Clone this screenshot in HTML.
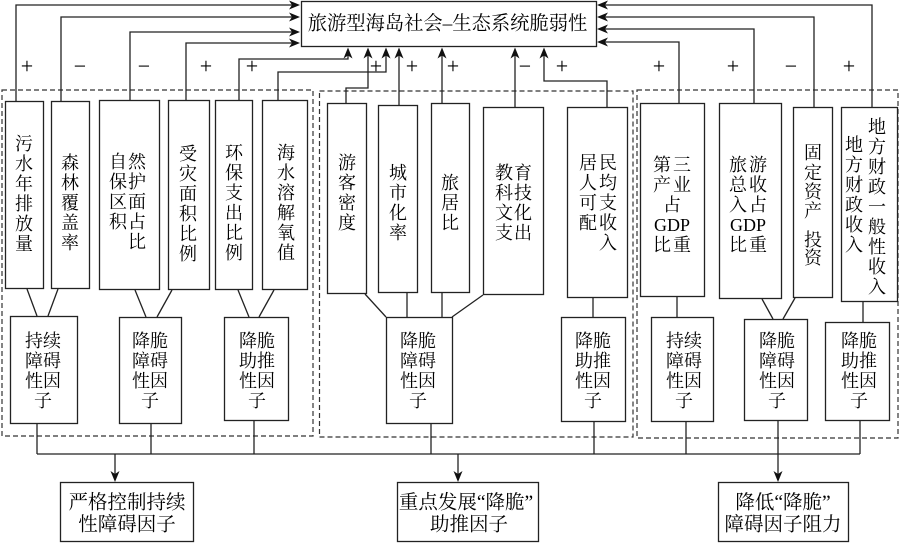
<!DOCTYPE html>
<html>
<head>
<meta charset="utf-8">
<style>
  html, body { margin: 0; padding: 0; background: #fff; }
  svg { display: block; }
  text { font-family: "Liberation Serif", "Noto Serif CJK SC", serif; fill: #000; text-anchor: middle; dominant-baseline: central; }
  .t { font-size: 18px; }
  .b { font-size: 19.5px; }
  .h { font-size: 19.3px; }
  .s { font-size: 22px; }
  .box { fill: #fff; stroke: #222; stroke-width: 1.3; }
  .ln { fill: none; stroke: #222; stroke-width: 1.3; }
  .dash { fill: none; stroke: #333; stroke-width: 1.2; stroke-dasharray: 5 3; }
  .ah { fill: #111; }
</style>
</head>
<body>
<svg width="900" height="543" viewBox="0 0 900 543" xmlns="http://www.w3.org/2000/svg">

  <!-- dashed group boxes -->
  <rect class="dash" x="2" y="90" width="311" height="346"/>
  <rect class="dash" x="319.5" y="91" width="313.5" height="346"/>
  <rect class="dash" x="637" y="90" width="261" height="348"/>

  <!-- top connectors, left group -->
  <polyline class="ln" points="16,101 16,5 292,5"/>
  <polyline class="ln" points="61,101 61,17 292,17"/>
  <polyline class="ln" points="130,100 130,32 292,32"/>
  <polyline class="ln" points="186,100 186,43 292,43"/>
  <polyline class="ln" points="239,100 239,59 348,59 348,55"/>
  <polyline class="ln" points="278,100 278,72 386,72 386,55"/>
  <!-- middle group -->
  <polyline class="ln" points="346,103 346,88 368,88 368,55"/>
  <polyline class="ln" points="399,105 399,55"/>
  <polyline class="ln" points="442,103 442,55"/>
  <polyline class="ln" points="515,107 515,55"/>
  <polyline class="ln" points="607,107 607,81 544,81 544,55"/>
  <!-- right group -->
  <polyline class="ln" points="679,103 679,42 605,42"/>
  <polyline class="ln" points="754,103 754,29 605,29"/>
  <polyline class="ln" points="814,107 814,17 605,17"/>
  <polyline class="ln" points="872,107 872,5 605,5"/>

  <!-- arrowheads into title box -->
  <polygon class="ah" points="300,5 289,0.5 292,5 289,9.5"/>
  <polygon class="ah" points="300,17 289,12.5 292,17 289,21.5"/>
  <polygon class="ah" points="300,32 289,27.5 292,32 289,36.5"/>
  <polygon class="ah" points="300,43 289,38.5 292,43 289,47.5"/>

  <polygon class="ah" points="348,47.5 343.5,58.5 348,55.5 352.5,58.5"/>
  <polygon class="ah" points="368,47.5 363.5,58.5 368,55.5 372.5,58.5"/>
  <polygon class="ah" points="386,47.5 381.5,58.5 386,55.5 390.5,58.5"/>
  <polygon class="ah" points="399,47.5 394.5,58.5 399,55.5 403.5,58.5"/>
  <polygon class="ah" points="442,47.5 437.5,58.5 442,55.5 446.5,58.5"/>
  <polygon class="ah" points="515,47.5 510.5,58.5 515,55.5 519.5,58.5"/>
  <polygon class="ah" points="544,47.5 539.5,58.5 544,55.5 548.5,58.5"/>

  <polygon class="ah" points="597,5 608,0.5 605,5 608,9.5"/>
  <polygon class="ah" points="597,17 608,12.5 605,17 608,21.5"/>
  <polygon class="ah" points="597,29 608,24.5 605,29 608,33.5"/>
  <polygon class="ah" points="597,42 608,37.5 605,42 608,46.5"/>

  <!-- title box -->
  <rect class="box" x="301.5" y="1.5" width="295" height="45"/>
  <text class="h" x="447.5" y="24">旅游型海岛社会–生态系统脆弱性</text>

  <!-- signs -->
  <text class="s" x="27" y="66">+</text>
  <text class="s" x="80" y="66">−</text>
  <text class="s" x="144" y="66">−</text>
  <text class="s" x="206" y="66">+</text>
  <text class="s" x="252" y="66">+</text>
  <text class="s" x="376" y="66">+</text>
  <text class="s" x="412" y="66">+</text>
  <text class="s" x="453" y="66">+</text>
  <text class="s" x="525" y="66">−</text>
  <text class="s" x="562" y="66">+</text>
  <text class="s" x="659" y="66">+</text>
  <text class="s" x="733" y="66">+</text>
  <text class="s" x="791" y="66">−</text>
  <text class="s" x="849" y="66">+</text>

  <!-- indicator boxes -->
  <rect class="box" x="5.5" y="101.5" width="38" height="187"/>
  <rect class="box" x="51.5" y="101.5" width="38" height="187"/>
  <rect class="box" x="99.5" y="100.5" width="60" height="189"/>
  <rect class="box" x="168.5" y="100.5" width="41" height="189"/>
  <rect class="box" x="215.5" y="100.5" width="37" height="189"/>
  <rect class="box" x="262.5" y="100.5" width="45" height="189"/>
  <rect class="box" x="327.5" y="103.5" width="39" height="190"/>
  <rect class="box" x="378.5" y="105.5" width="39" height="187"/>
  <rect class="box" x="431.5" y="103.5" width="38" height="189"/>
  <rect class="box" x="483.5" y="107.5" width="60" height="187"/>
  <rect class="box" x="567.5" y="107.5" width="60" height="190"/>
  <rect class="box" x="640.5" y="103.5" width="64" height="193"/>
  <rect class="box" x="719.5" y="103.5" width="62" height="195"/>
  <rect class="box" x="793.5" y="107.5" width="39" height="190"/>
  <rect class="box" x="841.5" y="107.5" width="56" height="194"/>

  <!-- box 1 -->
  <text class="t" x="24" y="144">污</text>
  <text class="t" x="24" y="164">水</text>
  <text class="t" x="24" y="184">年</text>
  <text class="t" x="24" y="204">排</text>
  <text class="t" x="24" y="224">放</text>
  <text class="t" x="24" y="244">量</text>
  <!-- box 2 -->
  <text class="t" x="70" y="163">森</text>
  <text class="t" x="70" y="183">林</text>
  <text class="t" x="70" y="203">覆</text>
  <text class="t" x="70" y="223">盖</text>
  <text class="t" x="70" y="243">率</text>
  <!-- box 3 -->
  <text class="t" x="118" y="162">自</text><text class="t" x="137" y="162">然</text>
  <text class="t" x="118" y="182">保</text><text class="t" x="137" y="182">护</text>
  <text class="t" x="118" y="202">区</text><text class="t" x="137" y="202">面</text>
  <text class="t" x="118" y="222">积</text><text class="t" x="137" y="222">占</text>
  <text class="t" x="137" y="242">比</text>
  <!-- box 4 -->
  <text class="t" x="188" y="154">受</text>
  <text class="t" x="188" y="174">灾</text>
  <text class="t" x="188" y="194">面</text>
  <text class="t" x="188" y="214">积</text>
  <text class="t" x="188" y="234">比</text>
  <text class="t" x="188" y="254">例</text>
  <!-- box 5 -->
  <text class="t" x="234" y="153">环</text>
  <text class="t" x="234" y="173">保</text>
  <text class="t" x="234" y="193">支</text>
  <text class="t" x="234" y="213">出</text>
  <text class="t" x="234" y="233">比</text>
  <text class="t" x="234" y="253">例</text>
  <!-- box 6 -->
  <text class="t" x="286" y="153">海</text>
  <text class="t" x="286" y="173">水</text>
  <text class="t" x="286" y="193">溶</text>
  <text class="t" x="286" y="213">解</text>
  <text class="t" x="286" y="233">氧</text>
  <text class="t" x="286" y="253">值</text>
  <!-- box 7 -->
  <text class="t" x="347" y="163">游</text>
  <text class="t" x="347" y="183">客</text>
  <text class="t" x="347" y="203">密</text>
  <text class="t" x="347" y="223">度</text>
  <!-- box 8 -->
  <text class="t" x="398" y="173">城</text>
  <text class="t" x="398" y="193">市</text>
  <text class="t" x="398" y="213">化</text>
  <text class="t" x="398" y="233">率</text>
  <!-- box 9 -->
  <text class="t" x="450" y="183">旅</text>
  <text class="t" x="450" y="203">居</text>
  <text class="t" x="450" y="223">比</text>
  <!-- box 10 -->
  <text class="t" x="504" y="173">教</text><text class="t" x="523" y="173">育</text>
  <text class="t" x="504" y="193">科</text><text class="t" x="523" y="193">技</text>
  <text class="t" x="504" y="213">文</text><text class="t" x="523" y="213">化</text>
  <text class="t" x="504" y="233">支</text><text class="t" x="523" y="233">出</text>
  <!-- box 11 -->
  <text class="t" x="588" y="163">居</text><text class="t" x="608" y="163">民</text>
  <text class="t" x="588" y="183">人</text><text class="t" x="608" y="183">均</text>
  <text class="t" x="588" y="203">可</text><text class="t" x="608" y="203">支</text>
  <text class="t" x="588" y="223">配</text><text class="t" x="608" y="223">收</text>
  <text class="t" x="608" y="243">入</text>
  <!-- box 12 -->
  <text class="t" x="662" y="165">第</text><text class="t" x="682" y="165">三</text>
  <text class="t" x="662" y="185">产</text><text class="t" x="682" y="185">业</text>
  <text class="t" x="672" y="205">占</text>
  <text class="t" x="672" y="225">GDP</text>
  <text class="t" x="662" y="245">比</text><text class="t" x="682" y="245">重</text>
  <!-- box 13 -->
  <text class="t" x="738" y="165">旅</text><text class="t" x="758" y="165">游</text>
  <text class="t" x="738" y="185">总</text><text class="t" x="758" y="185">收</text>
  <text class="t" x="738" y="205">入</text><text class="t" x="758" y="205">占</text>
  <text class="t" x="748" y="225">GDP</text>
  <text class="t" x="738" y="245">比</text><text class="t" x="758" y="245">重</text>
  <!-- box 14 -->
  <text class="t" x="813" y="153">固</text>
  <text class="t" x="813" y="173">定</text>
  <text class="t" x="813" y="192">资</text>
  <text class="t" x="813" y="211">产</text>
  <text class="t" x="813" y="240">投</text>
  <text class="t" x="813" y="258">资</text>
  <!-- box 15 -->
  <text class="t" x="877" y="127">地</text>
  <text class="t" x="877" y="147">方</text>
  <text class="t" x="877" y="167">财</text>
  <text class="t" x="877" y="187">政</text>
  <text class="t" x="877" y="207">一</text>
  <text class="t" x="877" y="227">般</text>
  <text class="t" x="877" y="247">性</text>
  <text class="t" x="877" y="267">收</text>
  <text class="t" x="877" y="287">入</text>
  <text class="t" x="854" y="145">地</text>
  <text class="t" x="854" y="165">方</text>
  <text class="t" x="854" y="185">财</text>
  <text class="t" x="854" y="205">政</text>
  <text class="t" x="854" y="225">收</text>
  <text class="t" x="854" y="245">入</text>

  <!-- connectors indicators -> factor boxes -->
  <line class="ln" x1="27" y1="289" x2="37" y2="316"/>
  <line class="ln" x1="58" y1="289" x2="48" y2="316"/>
  <line class="ln" x1="135" y1="290" x2="146" y2="317"/>
  <line class="ln" x1="172" y1="290" x2="157" y2="317"/>
  <line class="ln" x1="238" y1="290" x2="249" y2="317"/>
  <line class="ln" x1="274" y1="290" x2="259" y2="317"/>
  <line class="ln" x1="365" y1="294" x2="386" y2="317"/>
  <line class="ln" x1="407" y1="293" x2="407" y2="317"/>
  <line class="ln" x1="442" y1="293" x2="442" y2="317"/>
  <line class="ln" x1="483" y1="295" x2="452" y2="317"/>
  <line class="ln" x1="593" y1="298" x2="593" y2="317"/>
  <line class="ln" x1="677" y1="297" x2="677" y2="317"/>
  <line class="ln" x1="762" y1="299" x2="773" y2="319"/>
  <line class="ln" x1="795" y1="298" x2="783" y2="319"/>
  <line class="ln" x1="863" y1="302" x2="863" y2="322"/>

  <!-- factor boxes -->
  <rect class="box" x="10.5" y="316.5" width="67" height="107"/>
  <rect class="box" x="119.5" y="317.5" width="62" height="106"/>
  <rect class="box" x="224.5" y="317.5" width="64" height="103"/>
  <rect class="box" x="386.5" y="317.5" width="66" height="106"/>
  <rect class="box" x="561.5" y="317.5" width="64" height="104"/>
  <rect class="box" x="651.5" y="317.5" width="62" height="104"/>
  <rect class="box" x="744.5" y="319.5" width="63" height="101"/>
  <rect class="box" x="825.5" y="322.5" width="64" height="98"/>

  <text class="t" x="43" y="341">持续</text><text class="t" x="43" y="361">障碍</text><text class="t" x="43" y="381">性因</text><text class="t" x="43" y="401">子</text>
  <text class="t" x="150" y="341">降脆</text><text class="t" x="150" y="361">障碍</text><text class="t" x="150" y="381">性因</text><text class="t" x="150" y="401">子</text>
  <text class="t" x="257" y="341">降脆</text><text class="t" x="257" y="361">助推</text><text class="t" x="257" y="381">性因</text><text class="t" x="257" y="401">子</text>
  <text class="t" x="418" y="341">降脆</text><text class="t" x="418" y="361">障碍</text><text class="t" x="418" y="381">性因</text><text class="t" x="418" y="401">子</text>
  <text class="t" x="593" y="341">降脆</text><text class="t" x="593" y="361">助推</text><text class="t" x="593" y="381">性因</text><text class="t" x="593" y="401">子</text>
  <text class="t" x="684" y="341">持续</text><text class="t" x="684" y="361">障碍</text><text class="t" x="684" y="381">性因</text><text class="t" x="684" y="401">子</text>
  <text class="t" x="777" y="341">降脆</text><text class="t" x="777" y="361">障碍</text><text class="t" x="777" y="381">性因</text><text class="t" x="777" y="401">子</text>
  <text class="t" x="859" y="341">降脆</text><text class="t" x="859" y="361">助推</text><text class="t" x="859" y="381">性因</text><text class="t" x="859" y="401">子</text>

  <!-- bottom bus -->
  <line class="ln" x1="37" y1="424" x2="37" y2="454"/>
  <line class="ln" x1="151" y1="424" x2="151" y2="454"/>
  <line class="ln" x1="254" y1="421" x2="254" y2="454"/>
  <line class="ln" x1="431" y1="424" x2="431" y2="454"/>
  <line class="ln" x1="594" y1="422" x2="594" y2="454"/>
  <line class="ln" x1="686" y1="422" x2="686" y2="454"/>
  <line class="ln" x1="778" y1="421" x2="778" y2="474"/>
  <line class="ln" x1="860" y1="421" x2="860" y2="454"/>
  <line class="ln" x1="37" y1="454" x2="860" y2="454"/>
  <line class="ln" x1="115" y1="454" x2="115" y2="474"/>
  <line class="ln" x1="458" y1="454" x2="458" y2="474"/>

  <polygon class="ah" points="115,482 110.5,471 115,474 119.5,471"/>
  <polygon class="ah" points="458,482 453.5,471 458,474 462.5,471"/>
  <polygon class="ah" points="778,482 773.5,471 778,474 782.5,471"/>

  <!-- bottom boxes -->
  <rect class="box" x="60.5" y="482.5" width="133" height="59"/>
  <rect class="box" x="397.5" y="482.5" width="141" height="59"/>
  <rect class="box" x="718.5" y="482.5" width="130" height="59"/>
  <text class="b" x="127" y="503">严格控制持续</text>
  <text class="b" x="127" y="525">性障碍因子</text>
  <text class="b" x="466" y="503">重点发展“降脆”</text>
  <text class="b" x="469" y="525">助推因子</text>
  <text class="b" x="783" y="503">降低“降脆”</text>
  <text class="b" x="783" y="525">障碍因子阻力</text>
</svg>
</body>
</html>
